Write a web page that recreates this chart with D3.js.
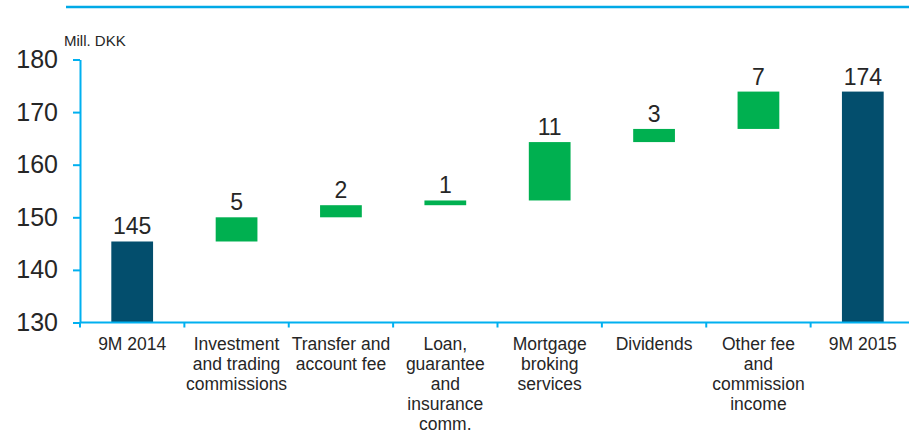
<!DOCTYPE html>
<html>
<head>
  <meta charset="utf-8">
  <title>Fee and commission income bridge</title>
  <script src="https://d3js.org/d3.v7.min.js"></script>
  <style>
    html, body {
      margin: 0;
      padding: 0;
      background: #fff;
      overflow: hidden;
    }
    svg text {
      font-family: "Liberation Sans", Arial, sans-serif;
      fill: #262626;
    }
    .axis path, .axis line {
      stroke: #00B0F0;
      stroke-width: 2px;
    }
  </style>
</head>
<body>
  <svg width="909" height="432"></svg>
  <script>
    // Categories (line breaks as in the original)
    const categories = [
      ["9M 2014"],
      ["Investment", "and trading", "commissions"],
      ["Transfer and", "account fee"],
      ["Loan,", "guarantee", "and", "insurance", "comm."],
      ["Mortgage", "broking", "services"],
      ["Dividends"],
      ["Other fee", "and", "commission", "income"],
      ["9M 2015"]
    ];
    // true = total bar (from axis), false = floating step
    const isTotal = [true, false, false, false, false, false, false, true];
    // step sizes, Mill. DKK
    const values = [145.4, 4.6, 2.3, 0.9, 11.1, 2.5, 7.1, 173.9];
    const yTicks = [130, 140, 150, 160, 170, 180];

    // build waterfall rows
    let running = 0;
    const rows = values.map((v, i) => {
      let lo, hi;
      if (isTotal[i]) { lo = yTicks[0]; hi = v; running = v; }
      else { lo = running; hi = running + v; running = hi; }
      return { i, lo, hi, v, total: isTotal[i] };
    });

    const svg = d3.select("svg");

    const x = d3.scaleBand()
      .domain(d3.range(categories.length))
      .range([80, 915])
      .paddingInner(0)
      .paddingOuter(0);

    const y = d3.scaleLinear()
      .domain([130, 180])
      .range([322.5, 59.5]);

    // top rule of the slide
    svg.append("line")
      .attr("x1", 66).attr("x2", 909)
      .attr("y1", 7).attr("y2", 7)
      .attr("stroke", "#00A9E6")
      .attr("stroke-width", 2.5);

    // unit label
    svg.append("text")
      .attr("x", 64).attr("y", 46)
      .attr("font-size", 15)
      .text("Mill. DKK");

    // bars
    const barW = x.bandwidth() * 0.4;
    svg.append("g").selectAll("rect")
      .data(rows)
      .enter()
      .append("rect")
      .attr("x", d => x(d.i) + (x.bandwidth() - barW) / 2)
      .attr("y", d => y(d.hi))
      .attr("width", barW)
      .attr("height", d => y(d.lo) - y(d.hi))
      .attr("fill", d => d.total ? "#034E6D" : "#00B050");

    // value labels
    svg.append("g").selectAll("text")
      .data(rows)
      .enter()
      .append("text")
      .attr("x", d => x(d.i) + x.bandwidth() / 2)
      .attr("y", d => y(d.hi) - 7)
      .attr("text-anchor", "middle")
      .attr("font-size", 23)
      .text(d => Math.round(d.v));

    // y axis
    const yAxis = svg.append("g")
      .attr("class", "axis")
      .attr("transform", "translate(80,0)")
      .call(d3.axisLeft(y).tickValues(yTicks).tickSize(7).tickSizeOuter(0).tickPadding(15));
    yAxis.selectAll("text")
      .attr("font-size", 25)
      .attr("fill", "#262626");

    // x axis: ticks at band boundaries
    const xAxis = svg.append("g")
      .attr("class", "axis")
      .attr("transform", `translate(0,${y(130)})`);
    xAxis.append("line")
      .attr("x1", 80).attr("x2", 915);
    xAxis.selectAll("line.tick")
      .data(d3.range(categories.length + 1))
      .enter()
      .append("line")
      .attr("class", "tick")
      .attr("x1", d => x.range()[0] + d * x.step())
      .attr("x2", d => x.range()[0] + d * x.step())
      .attr("y1", 0).attr("y2", 5);

    // category labels
    const cat = svg.append("g").selectAll("text")
      .data(categories)
      .enter()
      .append("text")
      .attr("x", (d, i) => x(i) + x.bandwidth() / 2)
      .attr("y", y(130) + 27)
      .attr("text-anchor", "middle")
      .attr("font-size", 17.5);
    cat.selectAll("tspan")
      .data(d => d)
      .enter()
      .append("tspan")
      .attr("x", function() { return this.parentNode.getAttribute("x"); })
      .attr("dy", (d, i) => i === 0 ? 0 : 20)
      .text(d => d);
  </script>
</body>
</html>
